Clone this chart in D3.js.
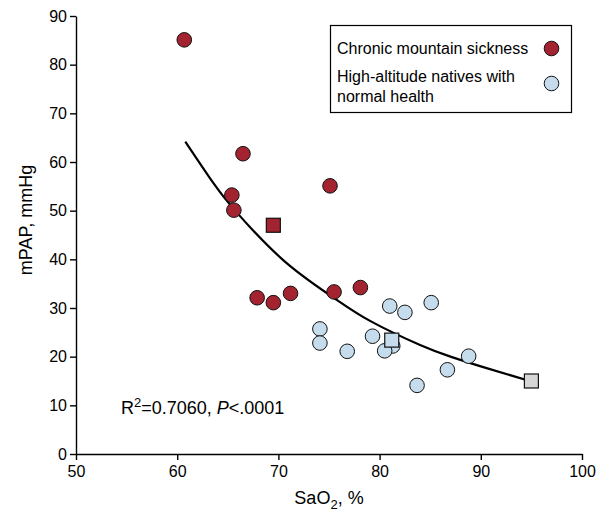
<!DOCTYPE html>
<html>
<head>
<meta charset="utf-8">
<script src="https://cdn.jsdelivr.net/npm/d3@7"></script>
<style>
  body { margin: 0; background: #fff; }
  svg text { font-family: "Liberation Sans", Arial, sans-serif; fill: #000; }
  .axis path, .axis line { stroke: #000; stroke-width: 1.4; }
  .axis text { font-size: 16px; }
</style>
</head>
<body>
<div id="chart"></div>
<script>
// values
const xTicks = [50, 60, 70, 80, 90, 100];
const yTicks = [0, 10, 20, 30, 40, 50, 60, 70, 80, 90];

// chronic mountain sickness, individual subjects [SaO2, mPAP]
const cmsPoints = [
  [60.7, 85.1], [66.5, 61.7], [65.4, 53.2], [65.6, 50.1], [75.1, 55.1],
  [67.9, 32.1], [69.5, 31.1], [71.2, 33.0], [75.5, 33.3], [78.1, 34.2]
];
// high-altitude natives with normal health
const hanPoints = [
  [81.0, 30.4], [82.5, 29.1], [85.1, 31.1], [74.1, 25.7], [74.1, 22.8],
  [76.8, 21.1], [79.3, 24.2], [81.3, 22.2], [80.5, 21.2], [83.7, 14.1],
  [86.7, 17.3], [88.8, 20.1]
];
// group means (squares)
const meanPoints = [
  { x: 69.5, y: 47.0, group: "cms" },
  { x: 81.2, y: 23.4, group: "han" },
  { x: 95.0, y: 15.0, group: "sea" }
];
// fitted curve
const fitCurve = [
  [60.8, 64.2], [63.6, 55.6], [65.9, 49.6], [70.5, 39.8], [75.4, 32.2],
  [79.1, 27.3], [84.0, 22.4], [87.0, 20.0], [90.0, 18.0], [95.0, 14.9]
];

const COLORS = { cms: "#a32330", han: "#c5dced", sea: "#d6d6d6" };
const LABELS = { cms: "Chronic mountain sickness", han: ["High-altitude natives with", "normal health"] };

const WIDTH = 606, HEIGHT = 511;
const MARGIN = { top: 16, right: 24, bottom: 57, left: 76 };

const svg = d3.select("#chart").append("svg")
  .attr("width", WIDTH).attr("height", HEIGHT);

const x = d3.scaleLinear().domain([50, 100]).range([MARGIN.left, WIDTH - MARGIN.right]);
const y = d3.scaleLinear().domain([0, 90]).range([HEIGHT - MARGIN.bottom, MARGIN.top]);

svg.append("g")
  .attr("class", "axis")
  .attr("transform", `translate(0,${y(0)})`)
  .call(d3.axisBottom(x).tickValues(xTicks).tickSize(6).tickSizeOuter(0).tickPadding(6));

svg.append("g")
  .attr("class", "axis")
  .attr("transform", `translate(${x(50)},0)`)
  .call(d3.axisLeft(y).tickValues(yTicks).tickSize(6).tickSizeOuter(0).tickPadding(3));

svg.selectAll(".axis .domain").attr("stroke-width", 1.6);

// axis titles
svg.append("text")
  .attr("transform", "translate(32,220) rotate(-90)")
  .attr("text-anchor", "middle")
  .style("font-size", "18px")
  .text("mPAP, mmHg");

const xt = svg.append("text")
  .attr("x", (x(50) + x(100)) / 2)
  .attr("y", 504)
  .attr("text-anchor", "middle")
  .style("font-size", "18px");
xt.append("tspan").text("SaO");
xt.append("tspan").attr("dy", 5).style("font-size", "13px").text("2");
xt.append("tspan").attr("dy", -5).text(", %");

// fit line
const line = d3.line()
  .x((d) => x(d[0]))
  .y((d) => y(d[1]))
  .curve(d3.curveNatural);

svg.append("path")
  .datum(fitCurve)
  .attr("d", line)
  .attr("fill", "none")
  .attr("stroke", "#000")
  .attr("stroke-width", 2.2);

// individual points
const R = 7.3;
svg.append("g").selectAll("circle")
  .data(hanPoints)
  .join("circle")
  .attr("cx", (d) => x(d[0]))
  .attr("cy", (d) => y(d[1]))
  .attr("r", R)
  .attr("fill", COLORS.han)
  .attr("stroke", "#111")
  .attr("stroke-width", 1);

svg.append("g").selectAll("circle")
  .data(cmsPoints)
  .join("circle")
  .attr("cx", (d) => x(d[0]))
  .attr("cy", (d) => y(d[1]))
  .attr("r", R)
  .attr("fill", COLORS.cms)
  .attr("stroke", "#111")
  .attr("stroke-width", 1);

// means
const S = 14;
svg.append("g").selectAll("rect")
  .data(meanPoints)
  .join("rect")
  .attr("x", (d) => x(d.x) - S / 2)
  .attr("y", (d) => y(d.y) - S / 2)
  .attr("width", S)
  .attr("height", S)
  .attr("fill", (d) => COLORS[d.group])
  .attr("stroke", "#111")
  .attr("stroke-width", 1.2);

// R2 annotation
const r2 = svg.append("text")
  .attr("x", 121)
  .attr("y", 414)
  .style("font-size", "18px");
r2.append("tspan").text("R");
r2.append("tspan").attr("dy", -7).style("font-size", "13px").text("2");
r2.append("tspan").attr("dy", 7).text("=0.7060, ");
r2.append("tspan").style("font-style", "italic").text("P");
r2.append("tspan").text("<.0001");

// legend
const legend = svg.append("g");
legend.append("rect")
  .attr("x", 330.5).attr("y", 25.5)
  .attr("width", 241).attr("height", 87)
  .attr("fill", "#fff")
  .attr("stroke", "#000")
  .attr("stroke-width", 1.2);

legend.append("text")
  .attr("x", 337).attr("y", 54)
  .style("font-size", "16px")
  .text(LABELS.cms);
legend.append("circle")
  .attr("cx", 551.5).attr("cy", 48.5).attr("r", R)
  .attr("fill", COLORS.cms).attr("stroke", "#111");

legend.append("text")
  .attr("x", 337).attr("y", 82)
  .style("font-size", "16px")
  .selectAll("tspan")
  .data(LABELS.han)
  .join("tspan")
  .attr("x", 337)
  .attr("dy", (d, i) => (i === 0 ? 0 : 20))
  .text((d) => d);
legend.append("circle")
  .attr("cx", 551.5).attr("cy", 83.5).attr("r", R)
  .attr("fill", COLORS.han).attr("stroke", "#111");
</script>
</body>
</html>
